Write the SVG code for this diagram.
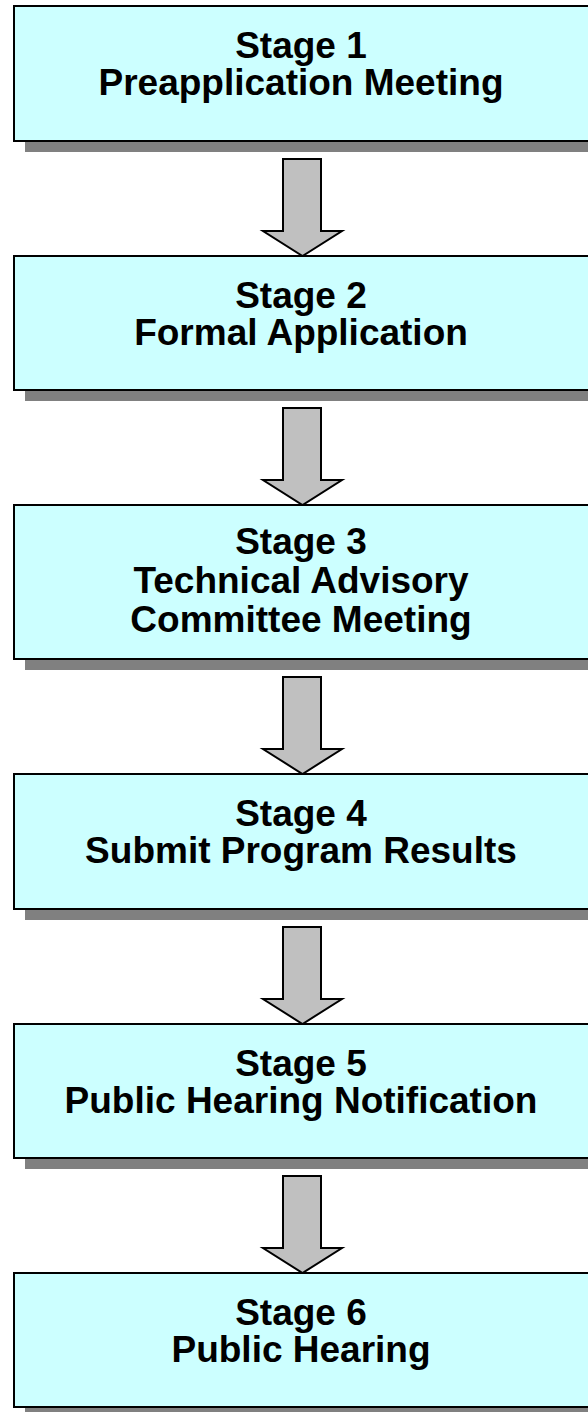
<svg xmlns="http://www.w3.org/2000/svg" width="588" height="1412" viewBox="0 0 588 1412">
<style>
.sh{fill:#808080;}
.bx{fill:#CCFFFF;stroke:#000;stroke-width:2;}
.t{font-family:"Liberation Sans",Arial,sans-serif;font-weight:bold;font-size:37px;fill:#000;text-anchor:middle;}
.ar{fill:#C0C0C0;stroke:#000;stroke-width:2;stroke-linejoin:miter;}
</style>
<defs>
<path id="arr" d="M283,0 L321,0 L321,72 L342,72 L302.5,97 L263,72 L283,72 Z"/>
</defs>
<rect x="0" y="0" width="588" height="1412" fill="#fff"/>
<g id="connectors">
<use href="#arr" class="ar" transform="translate(0,159)"/>
<use href="#arr" class="ar" transform="translate(0,408)"/>
<use href="#arr" class="ar" transform="translate(0,677)"/>
<use href="#arr" class="ar" transform="translate(0,927)"/>
<use href="#arr" class="ar" transform="translate(0,1176)"/>
</g>
<g id="stage1">
<rect class="sh" x="25" y="17" width="580" height="135"/>
<rect class="bx" x="14" y="6" width="590" height="135"/>
<text class="t" x="301" y="58">Stage 1</text>
<text class="t" x="301" y="95">Preapplication Meeting</text>
</g>
<g id="stage2">
<rect class="sh" x="25" y="267" width="580" height="134"/>
<rect class="bx" x="14" y="256" width="590" height="134"/>
<text class="t" x="301" y="307.5">Stage 2</text>
<text class="t" x="301" y="344.5">Formal Application</text>
</g>
<g id="stage3">
<rect class="sh" x="25" y="516" width="580" height="154"/>
<rect class="bx" x="14" y="505" width="590" height="154"/>
<text class="t" x="301" y="554">Stage 3</text>
<text class="t" x="301" y="593">Technical Advisory</text>
<text class="t" x="301" y="632">Committee Meeting</text>
</g>
<g id="stage4">
<rect class="sh" x="25" y="785" width="580" height="135"/>
<rect class="bx" x="14" y="774" width="590" height="135"/>
<text class="t" x="301" y="826">Stage 4</text>
<text class="t" x="301" y="863">Submit Program Results</text>
</g>
<g id="stage5">
<rect class="sh" x="25" y="1035" width="580" height="134"/>
<rect class="bx" x="14" y="1024" width="590" height="134"/>
<text class="t" x="301" y="1075.5">Stage 5</text>
<text class="t" x="301" y="1112.5">Public Hearing Notification</text>
</g>
<g id="stage6">
<rect class="sh" x="25" y="1284" width="580" height="134"/>
<rect class="bx" x="14" y="1273" width="590" height="134"/>
<text class="t" x="301" y="1324.5">Stage 6</text>
<text class="t" x="301" y="1361.5">Public Hearing</text>
</g>
</svg>
